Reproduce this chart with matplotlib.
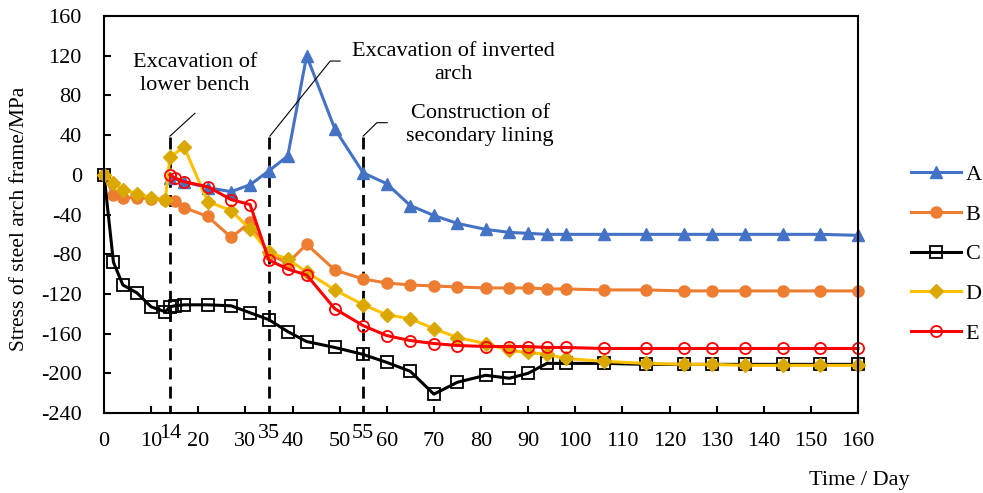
import numpy as np
import matplotlib
matplotlib.use("Agg")
import matplotlib.pyplot as plt

plt.rcParams["font.family"] = ["Liberation Serif", "DejaVu Serif"]
plt.rcParams["font.size"] = 16
plt.rcParams["axes.unicode_minus"] = False

# measured stress of the steel arch frame at points A-E (MPa) vs time (day)
DAYS_A = [14, 17, 22, 27, 31, 35, 39, 43, 49, 55, 60, 65, 70, 75, 81, 86, 90, 94, 98,
          106, 115, 123, 129, 136, 144, 152, 160]
STRESS_A = [-3, -7, -13, -17, -10, 4, 19, 120, 46, 2, -9, -31, -41, -49, -55, -58, -59, -60, -60,
            -60, -60, -60, -60, -60, -60, -60, -61]

DAYS_B = [0, 2, 4, 7, 10, 13, 15, 17, 22, 27, 31, 35, 39, 43, 49, 55, 60, 65, 70, 75, 81, 86,
          90, 94, 98, 106, 115, 123, 129, 136, 144, 152, 160]
STRESS_B = [0, -20, -23, -23, -24, -25, -26, -33, -42, -63, -48, -80, -89, -70, -96, -105, -109,
            -111, -112, -113, -114, -114, -114, -115, -115, -116, -116, -117, -117, -117, -117,
            -117, -117]

DAYS_C = [0, 2, 4, 7, 10, 13, 14, 15, 17, 22, 27, 31, 35, 39, 43, 49, 55, 60, 65, 70, 75, 81,
          86, 90, 94, 98, 106, 115, 123, 129, 136, 144, 152, 160]
STRESS_C = [0, -88, -111, -119, -133, -138, -133, -132, -131, -131, -132, -139, -146, -158, -168,
            -174, -181, -189, -198, -221, -209, -202, -205, -200, -190, -190, -190, -191, -191,
            -191, -191, -191, -191, -191]

DAYS_D = [0, 2, 4, 7, 10, 13, 14, 17, 22, 27, 31, 35, 39, 43, 49, 55, 60, 65, 70, 75, 81, 86,
          90, 94, 98, 106, 115, 123, 129, 136, 144, 152, 160]
STRESS_D = [0, -8, -15, -19, -23, -25, 18, 28, -27, -36, -55, -78, -85, -98, -116, -131, -141,
            -145, -155, -164, -170, -177, -179, -181, -185, -188, -190, -191, -191, -192, -192,
            -192, -192]

DAYS_E = [14, 15, 17, 22, 27, 31, 35, 39, 43, 49, 55, 60, 65, 70, 75, 81, 86, 90, 94, 98, 106,
          115, 123, 129, 136, 144, 152, 160]
STRESS_E = [0, -3, -7, -12, -25, -30, -86, -95, -101, -135, -152, -162, -167, -170, -172, -173,
            -173, -173, -174, -174, -175, -175, -175, -175, -175, -175, -175, -175]

# construction stages (day) marked by dashed lines
STAGE_DAYS = [14, 35, 55]
STAGE_TEXT = ["Excavation of\nlower bench", "Excavation of inverted\narch",
              "Construction of\nsecondary lining"]

X_TICKS = list(range(0, 161, 10))
Y_TICKS = list(range(-240, 161, 40))

fig = plt.figure(figsize=(9.83, 4.93), dpi=100)
ax = fig.add_axes([104 / 983, 1 - 413 / 493, 754 / 983, 397 / 493])

lw = 2.2
ax.plot(DAYS_A, STRESS_A, color="#4472C4", lw=lw, marker="^", ms=9, label="A", clip_on=False)
ax.plot(DAYS_B, STRESS_B, color="#ED7D31", lw=lw, marker="o", ms=8, label="B", clip_on=False)
ax.plot(DAYS_C, STRESS_C, color="black", lw=lw, marker="s", ms=8, mfc="none", mew=1.3,
        label="C", clip_on=False)
ax.plot(DAYS_D, STRESS_D, color="#FFC000", lw=lw, marker="D", ms=7, mfc="#DAA800", mec="#DAA800",
        label="D", clip_on=False)
ax.plot(DAYS_E, STRESS_E, color="#FF0000", lw=lw, marker="o", ms=8, mfc="none", mew=1.3,
        label="E", clip_on=False)

# stage markers: dashed verticals with thin leader lines to the notes
for d in STAGE_DAYS:
    ax.plot([d, d], [38, -240], color="black", lw=2.0, ls=(0, (4.3, 2.6)), zorder=1)
ax.plot([14, 19.3], [39, 62], color="black", lw=0.8)
ax.plot([35.2, 48, 50.1], [39, 114.6, 114.6], color="black", lw=0.8)
ax.plot([55, 57.9, 60.1], [39, 52.5, 52.5], color="black", lw=0.8)
ax.text(19.3, 101.5, STAGE_TEXT[0], ha="center", va="center", linespacing=1.3)
ax.text(74.1, 112.5, STAGE_TEXT[1], ha="center", va="center", linespacing=1.3)
ax.text(79.8, 50.2, STAGE_TEXT[2], ha="center", va="center", linespacing=1.3)

ax.set_xlim(0, 160)
ax.set_ylim(-240, 160)
ax.set_xticks(X_TICKS)
ax.set_xticks(STAGE_DAYS, minor=True)
ax.set_xticklabels([str(t) for t in STAGE_DAYS], minor=True)
ax.set_yticks(Y_TICKS)
ax.tick_params(axis="both", which="major", direction="in", length=5, width=1.5, labelsize=16)
ax.tick_params(axis="x", which="major", pad=14)
ax.tick_params(axis="x", which="minor", length=0, pad=8, labelsize=16)
ax.tick_params(axis="y", which="major", pad=16)
for sp in ax.spines.values():
    sp.set_linewidth(1.5)

fig.text(20 / 983, 1 - 219 / 493, "Stress of steel arch frame/MPa", rotation=90,
         ha="center", va="center", fontsize=15.5)
fig.text(910 / 983, 1 - 480 / 493, "Time / Day", ha="right", va="center", fontsize=16)

ax.legend(loc="center left", bbox_to_anchor=(911 / 983, 1 - 254 / 493),
          bbox_transform=fig.transFigure, frameon=False, borderpad=0, borderaxespad=0,
          handlelength=2.25, handletextpad=0.2, labelspacing=0.86, fontsize=16)

fig.savefig("out.png", dpi=100)
